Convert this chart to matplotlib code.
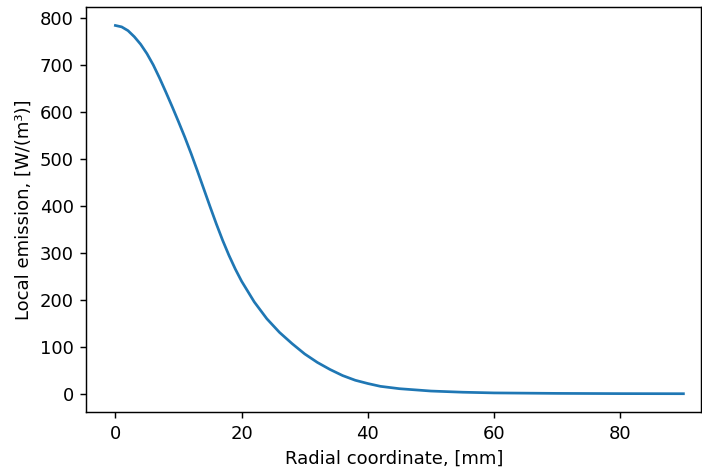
import matplotlib
matplotlib.use("Agg")
import matplotlib.pyplot as plt

radius_mm = [0, 1, 2, 3, 4, 5, 6, 7, 8, 9, 10, 11, 12, 13, 14, 15, 16, 17, 18, 19,
             20, 22, 24, 26, 28, 30, 32, 34, 36, 38, 40, 42, 45, 50, 55, 60, 70, 80, 90]
emission = [785, 782, 774, 761, 745, 725, 701, 673, 643, 612, 580, 547, 512, 475, 437,
            399, 362, 327, 295, 266, 240, 196, 160, 131, 107, 85, 67, 52, 39, 29, 22,
            16, 11, 6, 3.5, 2, 1, 0.5, 0.3]

DPI = 130
fig = plt.figure(figsize=(702 / DPI, 471 / DPI), dpi=DPI)
ax = fig.add_axes([0.123, 0.125, 0.8757, 0.860])
ax.plot(radius_mm, emission, color="#1f77b4", linewidth=1.5)
ax.set_xlim(-4.6, 92.8)
ax.set_xlabel("Radial coordinate, [mm]")
ax.set_ylabel("Local emission, [W/(m³)]")
fig.savefig("out.png", dpi=DPI)
